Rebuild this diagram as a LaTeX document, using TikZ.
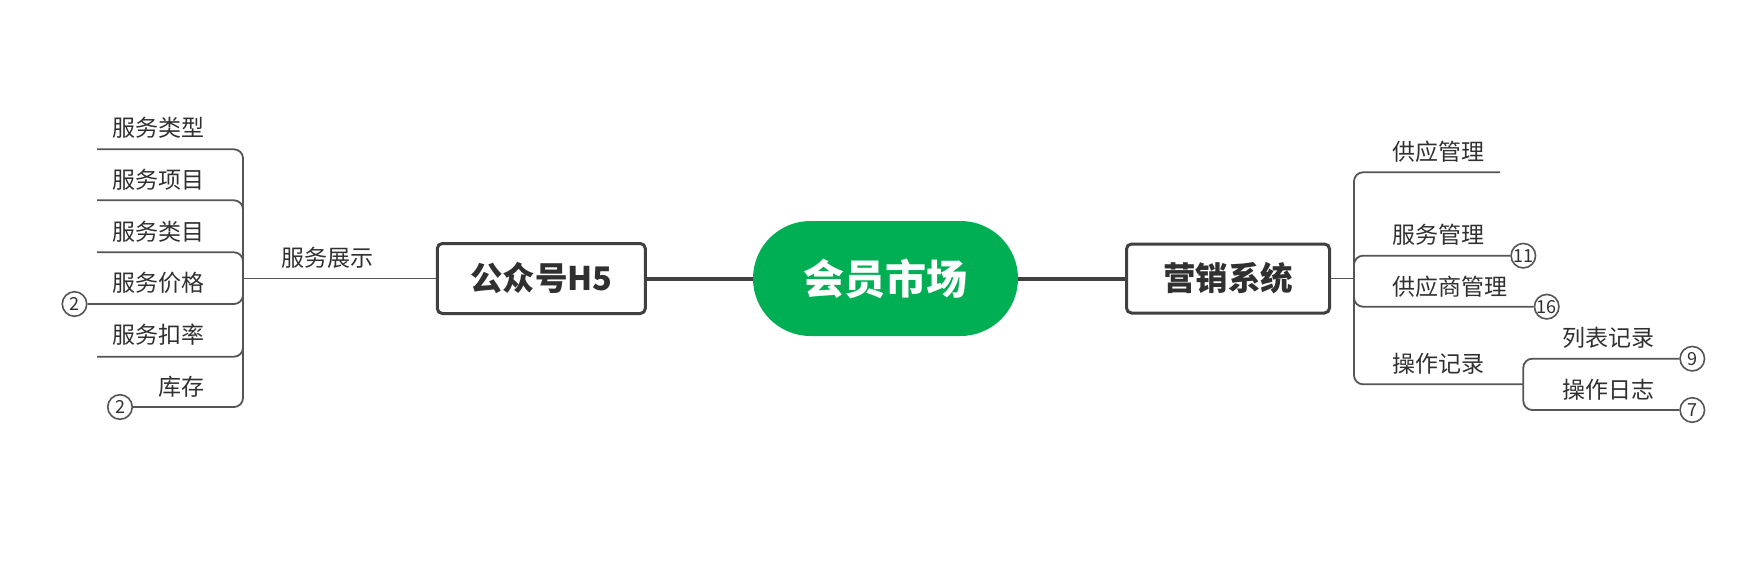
\documentclass[tikz,border=0pt]{standalone}
\usepackage{fontspec}
\setmainfont{Noto Sans CJK SC}
\definecolor{linec}{HTML}{555555}
\definecolor{boxc}{HTML}{404040}
\definecolor{textc}{HTML}{303030}
\definecolor{mgreen}{HTML}{00AF54}
\begin{document}
\begin{tikzpicture}[x=1pt,y=-1pt,
  branch/.style={draw=linec, line width=1.8pt, rounded corners=9pt},
  leaf/.style={inner sep=0pt, text=textc, font=\fontsize{23}{26}\selectfont},
  count/.style={circle, draw=linec, line width=1.6pt, fill=white, minimum size=24.5pt, inner sep=0pt, text=textc, font=\fontsize{18}{20}\selectfont},
  mainbox/.style={draw=boxc, line width=3pt, rounded corners=5pt, fill=white, inner sep=0pt, text=textc, font=\bfseries\fontsize{32.5}{36}\selectfont},
  trunk/.style={draw=boxc, line width=4pt}
]
\useasboundingbox (0,0) rectangle (1737,570);

% main nodes
\node[fill=mgreen, rounded corners=57.5pt, minimum width=265pt, minimum height=115pt, inner sep=0pt, text=white, font=\bfseries\fontsize{41}{44}\selectfont] (root) at (885.5,278.5) {会员市场};
\node[mainbox, minimum width=208pt, minimum height=70pt] (gzh) at (541.3,278.5) {公众号H5};
\node[mainbox, minimum width=203pt, minimum height=69pt] (yx) at (1228,278.5) {营销系统};
\draw[trunk] (gzh.east) -- (root.west);
\draw[trunk] (root.east) -- (yx.west);

% left side
\coordinate (Lj) at (243,278.5);
\draw[branch] (Lj) -- (gzh.west);
\node[leaf] (fwzs) at (327.5,258) {服务展示};

\coordinate (s1) at (97,149.3);
\coordinate (s2) at (97,200.3);
\coordinate (s3) at (97,252.3);
\coordinate (s5) at (97,356.7);
\node[count] (c2a) at (74.5,304) {2};
\node[count] (c2b) at (120,407) {2};
\draw[branch] (s1) -- (s1 -| Lj) -- (Lj);
\draw[branch] (s2) -- (s2 -| Lj) -- (Lj);
\draw[branch] (s3) -- (s3 -| Lj) -- (Lj);
\draw[branch] (c2a.east) -- (c2a.east -| Lj) -- (Lj);
\draw[branch] (s5) -- (s5 -| Lj) -- (Lj);
\draw[branch] (c2b.east) -- (c2b.east -| Lj) -- (Lj);

\node[leaf, anchor=east] (t1) at (205,128) {服务类型};
\node[leaf, anchor=east] (t2) at (205,180) {服务项目};
\node[leaf, anchor=east] (t3) at (205,231.7) {服务类目};
\node[leaf, anchor=east] (t4) at (205,283) {服务价格};
\node[leaf, anchor=east] (t5) at (205,335) {服务扣率};
\node[leaf, anchor=east] (t6) at (205,386.7) {库存};

% right side
\coordinate (Rj) at (1354,278.5);
\draw[branch] (yx.east) -- (Rj);
\coordinate (e1) at (1500,172.3);
\node[count] (c11) at (1523.3,255.7) {11};
\node[count] (c16) at (1546.7,306.7) {16};
\coordinate (Sj) at (1523.3,384.3);
\node[count] (c9) at (1692.3,358.7) {9};
\node[count] (c7) at (1692.3,410) {7};
\draw[branch] (e1) -- (e1 -| Rj) -- (Rj);
\draw[branch] (c11.west) -- (c11.west -| Rj) -- (Rj);
\draw[branch] (c16.west) -- (c16.west -| Rj) -- (Rj);
\draw[branch] (Sj) -- (Sj -| Rj) -- (Rj);
\draw[branch] (c9.west) -- (c9.west -| Sj) -- (Sj);
\draw[branch] (c7.west) -- (c7.west -| Sj) -- (Sj);

\node[leaf, anchor=west] (r1) at (1392,152) {供应管理};
\node[leaf, anchor=west] (r2) at (1392,235) {服务管理};
\node[leaf, anchor=west] (r3) at (1392,286.7) {供应商管理};
\node[leaf, anchor=west] (r4) at (1392,364) {操作记录};
\node[leaf, anchor=west] (r5) at (1562,338) {列表记录};
\node[leaf, anchor=west] (r6) at (1562,390) {操作日志};
\end{tikzpicture}
\end{document}
